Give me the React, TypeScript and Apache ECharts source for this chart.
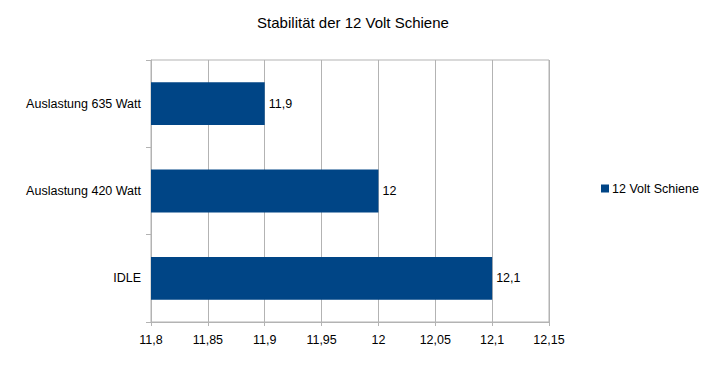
import React, { useEffect, useRef } from "react";
import * as echarts from "echarts";

const categories = ["IDLE", "Auslastung 420 Watt", "Auslastung 635 Watt"];
const values = [12.1, 12, 11.9];
const seriesName = "12 Volt Schiene";
const chartTitle = "Stabilität der 12 Volt Schiene";

const fmt = (v: number) => {
  const s = parseFloat(v.toFixed(4)).toString();
  return s.replace(".", ",");
};

export default function App() {
  const ref = useRef<HTMLDivElement>(null);
  useEffect(() => {
    if (!ref.current) return;
    const chart = echarts.init(ref.current, undefined, { renderer: "svg" });
    const font = "Liberation Sans, Arial, sans-serif";
    chart.setOption({
      animation: false,
      backgroundColor: "#ffffff",
      textStyle: { fontFamily: font },
      title: {
        text: chartTitle,
        left: 348,
        textAlign: "center",
        top: 10,
        textStyle: { fontSize: 15, fontWeight: "normal", color: "#000", fontFamily: font },
      },
      legend: {
        orient: "vertical",
        left: 596,
        top: 177,
        icon: "rect",
        itemWidth: 8,
        itemHeight: 8,
        itemGap: 4,
        textStyle: { fontSize: 12.5, color: "#000", fontFamily: font, padding: [0, 0, 0, -2] },
        data: [seriesName],
      },
      grid: {
        left: 151,
        right: 153,
        top: 60,
        bottom: 45,
        show: true,
        borderColor: "#b3b3b3",
        borderWidth: 1,
      },
      xAxis: {
        type: "value",
        min: 11.8,
        max: 12.15,
        interval: 0.05,
        axisLine: { show: true, lineStyle: { color: "#b3b3b3" } },
        axisTick: { show: true, length: 4, lineStyle: { color: "#b3b3b3" } },
        splitLine: { show: true, lineStyle: { color: "#b3b3b3" } },
        axisLabel: {
          formatter: (v: number) => fmt(v),
          fontSize: 12.5,
          color: "#000",
          margin: 11,
          fontFamily: font,
        },
      },
      yAxis: {
        type: "category",
        data: categories,
        axisLine: { show: true, lineStyle: { color: "#b3b3b3" } },
        axisTick: { show: true, length: 5, lineStyle: { color: "#b3b3b3" } },
        axisLabel: { fontSize: 12.5, color: "#000", margin: 10, fontFamily: font },
      },
      series: [
        {
          name: seriesName,
          type: "bar",
          data: values,
          barCategoryGap: "51%",
          itemStyle: { color: "#004586" },
          label: {
            show: true,
            position: "right",
            distance: 4,
            formatter: (p: any) => fmt(p.value),
            fontSize: 12.5,
            color: "#000",
            fontFamily: font,
          },
        },
      ],
    });
    return () => chart.dispose();
  }, []);
  return <div ref={ref} style={{ width: 702, height: 367, position: "absolute", left: 0, top: 0 }} />;
}
